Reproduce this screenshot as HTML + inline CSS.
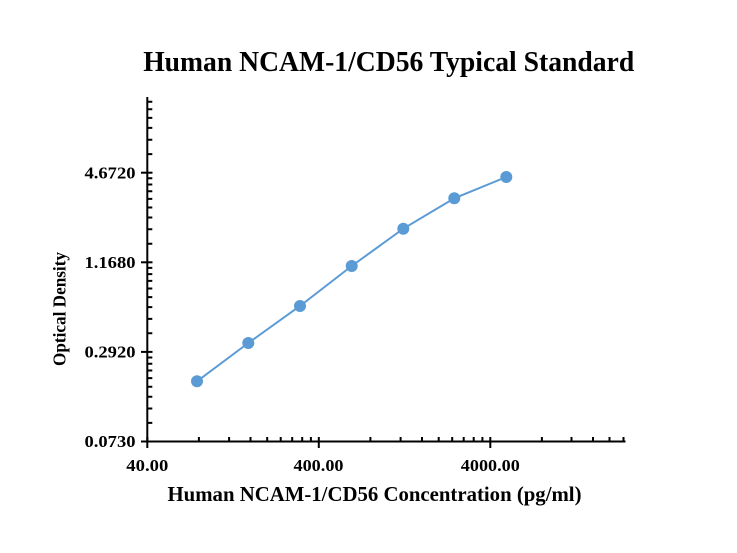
<!DOCTYPE html>
<html><head><meta charset="utf-8"><style>
html,body{margin:0;padding:0;background:#fff;}
svg{display:block;}
text{font-family:"Liberation Serif","Times New Roman",serif;font-weight:bold;fill:#000;}
</style></head><body>
<svg width="737" height="553" viewBox="0 0 737 553" xmlns="http://www.w3.org/2000/svg">
<rect width="737" height="553" fill="#fff"/>
<text x="388.7" y="71" font-size="28" text-anchor="middle" textLength="491" lengthAdjust="spacingAndGlyphs">Human NCAM-1/CD56 Typical Standard</text>
<g stroke="#000" stroke-width="2" fill="none">
<line x1="147.3" y1="97" x2="147.3" y2="442.5"/>
<line x1="146.3" y1="441.5" x2="625.5" y2="441.5"/>
<!-- y majors -->
<line x1="141" y1="441.5" x2="152.5" y2="441.5"/>
<line x1="141" y1="351.9" x2="152.5" y2="351.9"/>
<line x1="141" y1="262.3" x2="152.5" y2="262.3"/>
<line x1="141" y1="172.7" x2="152.5" y2="172.7"/>
<!-- y minors -->
<path d="M147 422.9h5.3M147 408.5h5.3M147 396.7h5.3M147 386.7h5.3M147 378.1h5.3M147 370.5h5.3M147 363.7h5.3M147 357.5h5.3
M147 333.3h5.3M147 318.9h5.3M147 307.1h5.3M147 297.1h5.3M147 288.5h5.3M147 280.9h5.3M147 274.1h5.3M147 267.9h5.3
M147 243.7h5.3M147 229.3h5.3M147 217.5h5.3M147 207.5h5.3M147 198.9h5.3M147 191.3h5.3M147 184.5h5.3M147 178.3h5.3
M147 154.1h5.3M147 139.7h5.3M147 127.9h5.3M147 117.9h5.3M147 109.3h5.3M147 101.7h5.3"/>
<!-- x majors -->
<line x1="147.3" y1="437" x2="147.3" y2="448"/>
<line x1="318.8" y1="437" x2="318.8" y2="448"/>
<line x1="490.3" y1="437" x2="490.3" y2="448"/>
<!-- x minors -->
<path d="M198.9 441.5v-4.5M229.1 441.5v-4.5M250.5 441.5v-4.5M267.2 441.5v-4.5M280.7 441.5v-4.5M292.2 441.5v-4.5M302.2 441.5v-4.5M310.9 441.5v-4.5
M370.4 441.5v-4.5M400.6 441.5v-4.5M422 441.5v-4.5M438.7 441.5v-4.5M452.2 441.5v-4.5M463.7 441.5v-4.5M473.7 441.5v-4.5M482.4 441.5v-4.5
M541.9 441.5v-4.5M571.5 441.5v-4.5M593 441.5v-4.5M609.5 441.5v-4.5M623.5 441.5v-4.5"/>
</g>
<g font-size="17" text-anchor="end">
<text x="135.5" y="178.3" textLength="51" lengthAdjust="spacingAndGlyphs">4.6720</text>
<text x="135.5" y="267.9" textLength="51" lengthAdjust="spacingAndGlyphs">1.1680</text>
<text x="135.5" y="357.5" textLength="51" lengthAdjust="spacingAndGlyphs">0.2920</text>
<text x="135.5" y="447.1" textLength="51" lengthAdjust="spacingAndGlyphs">0.0730</text>
</g>
<g font-size="17" text-anchor="middle">
<text x="147.3" y="471" textLength="42" lengthAdjust="spacingAndGlyphs">40.00</text>
<text x="318.5" y="471" textLength="50" lengthAdjust="spacingAndGlyphs">400.00</text>
<text x="490.3" y="471" textLength="59" lengthAdjust="spacingAndGlyphs">4000.00</text>
</g>
<text x="374.5" y="501" font-size="21" text-anchor="middle" textLength="414" lengthAdjust="spacingAndGlyphs">Human NCAM-1/CD56 Concentration (pg/ml)</text>
<text transform="translate(65.5,309) rotate(-90)" x="0" y="0" font-size="18" text-anchor="middle" textLength="114" lengthAdjust="spacingAndGlyphs">Optical Density</text>
<polyline points="197,381.3 248.3,343 300,306 351.7,266 403.3,228.7 454.3,198.3 506.3,177" fill="none" stroke="#5B9BD5" stroke-width="2"/>
<g fill="#5B9BD5">
<circle cx="197" cy="381.3" r="6"/>
<circle cx="248.3" cy="343" r="6"/>
<circle cx="300" cy="306" r="6"/>
<circle cx="351.7" cy="266" r="6"/>
<circle cx="403.3" cy="228.7" r="6"/>
<circle cx="454.3" cy="198.3" r="6"/>
<circle cx="506.3" cy="177" r="6"/>
</g>
</svg>
</body></html>
